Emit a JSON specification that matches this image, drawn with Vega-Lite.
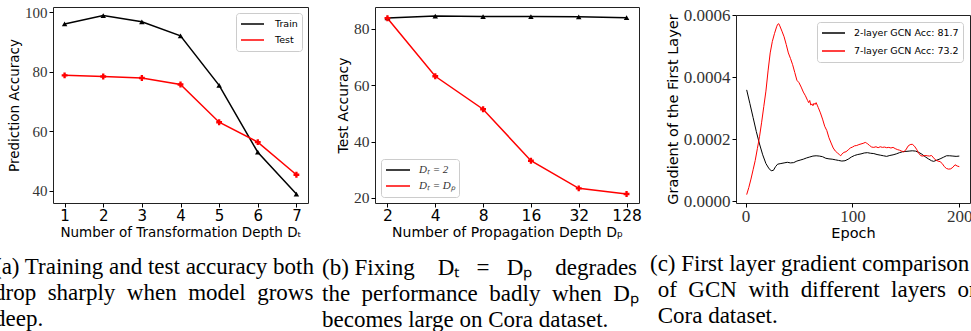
{
  "$schema": "https://vega.github.io/schema/vega-lite/v6.json",
  "autosize": {"type": "pad"},
  "padding": {"left": -7, "top": 4, "right": 0, "bottom": 0},
  "background": "white",
  "config": {
    "view": {"stroke": "#222222", "strokeWidth": 1},
    "axis": {"grid": false, "domain": false, "tickColor": "#000000", "tickSize": 4, "labelColor": "#000000", "titleColor": "#000000", "titleFontWeight": "normal", "titleFont": "DejaVu Sans", "labelFont": "DejaVu Sans", "labelFlush": false, "labelOverlap": false},
    "legend": {"title": null, "padding": 4, "strokeColor": "#cccccc", "fillColor": "white", "cornerRadius": 3, "labelFont": "DejaVu Sans", "labelColor": "#000000", "clipHeight": 14, "rowPadding": 2, "labelOffset": 8, "symbolType": "stroke", "symbolSize": 529, "symbolStrokeWidth": 1.5, "symbolOpacity": 1},
    "title": {"font": "Liberation Serif", "fontSize": 23, "fontWeight": "normal", "color": "#000000", "lineHeight": 26, "orient": "bottom", "anchor": "start", "frame": "group", "baseline": "top", "offset": 17}
  },
  "bounds": "flush",
  "spacing": 0,
  "resolve": {"scale": {"x": "independent", "y": "independent", "color": "independent"}, "legend": {"color": "independent"}},
  "hconcat": [
    {
      "width": 255,
      "height": 196,
      "title": {"text": ["(a) Training and test accuracy both", "drop \u00a0sharply \u00a0when \u00a0model \u00a0grows", "deep."], "dx": -59},
      "data": {"values": [
        {"depth": 1, "series": "Train", "acc": 96.1},
        {"depth": 2, "series": "Train", "acc": 98.9},
        {"depth": 3, "series": "Train", "acc": 96.8},
        {"depth": 4, "series": "Train", "acc": 92.1},
        {"depth": 5, "series": "Train", "acc": 75.4},
        {"depth": 6, "series": "Train", "acc": 52.9},
        {"depth": 7, "series": "Train", "acc": 38.8},
        {"depth": 1, "series": "Test", "acc": 78.8},
        {"depth": 2, "series": "Test", "acc": 78.4},
        {"depth": 3, "series": "Test", "acc": 77.9},
        {"depth": 4, "series": "Test", "acc": 75.7},
        {"depth": 5, "series": "Test", "acc": 63.0},
        {"depth": 6, "series": "Test", "acc": 56.3},
        {"depth": 7, "series": "Test", "acc": 45.3}
      ]},
      "encoding": {
        "x": {"field": "depth", "type": "quantitative", "scale": {"domain": [0.7, 7.3], "nice": false, "zero": false},
              "axis": {"title": "Number of Transformation Depth Dₜ", "values": [1, 2, 3, 4, 5, 6, 7], "format": "d", "labelFontSize": 15, "titleFontSize": 13.5, "labelPadding": 1, "titlePadding": 2}},
        "y": {"field": "acc", "type": "quantitative", "scale": {"domain": [35.8, 101.8], "nice": false, "zero": false},
              "axis": {"title": "Prediction Accuracy", "values": [40, 60, 80, 100], "labelFont": "Liberation Serif", "labelFontSize": 15, "labelColor": "#333333", "titleFontSize": 13.5, "labelPadding": 2, "titlePadding": 3}},
        "color": {"field": "series", "type": "nominal", "scale": {"domain": ["Train", "Test"], "range": ["#000000", "#ff0000"]},
                  "legend": {"orient": "top-right", "offset": 6, "labelFontSize": 9.5, "symbolType": "stroke", "symbolSize": 529, "symbolStrokeWidth": 1.5, "labelOffset": 10}}
      },
      "layer": [
        {"mark": {"type": "line", "strokeWidth": 1.5}},
        {"transform": [{"filter": "datum.series === 'Train'"}],
         "mark": {"type": "point", "filled": true, "opacity": 1, "size": 30, "shape": "triangle-up"}},
        {"transform": [{"filter": "datum.series === 'Test'"}],
         "mark": {"type": "point", "filled": true, "opacity": 1, "size": 34, "shape": "cross"}}
      ]
    },
    {
      "width": 67,
      "height": 196,
      "view": {"stroke": null},
      "data": {"values": []},
      "mark": {"type": "rule"},
      "encoding": {}
    },
    {
      "width": 264,
      "height": 196,
      "title": {"text": ["(b) Fixing\u00a0\u00a0\u00a0\u00a0Dₜ\u00a0\u00a0\u00a0=\u00a0\u00a0\u00a0Dₚ\u00a0\u00a0\u00a0\u00a0degrades", "the \u00a0performance \u00a0badly \u00a0when \u00a0Dₚ", "becomes large on Cora dataset."], "dx": -53},
      "data": {"values": [
        {"Dp": 2, "series": "Dₜ = 2", "acc": 83.9},
        {"Dp": 4, "series": "Dₜ = 2", "acc": 84.6},
        {"Dp": 8, "series": "Dₜ = 2", "acc": 84.4},
        {"Dp": 16, "series": "Dₜ = 2", "acc": 84.4},
        {"Dp": 32, "series": "Dₜ = 2", "acc": 84.3},
        {"Dp": 128, "series": "Dₜ = 2", "acc": 84.0},
        {"Dp": 2, "series": "Dₜ = Dₚ", "acc": 83.8},
        {"Dp": 4, "series": "Dₜ = Dₚ", "acc": 63.2},
        {"Dp": 8, "series": "Dₜ = Dₚ", "acc": 51.5},
        {"Dp": 16, "series": "Dₜ = Dₚ", "acc": 33.2},
        {"Dp": 32, "series": "Dₜ = Dₚ", "acc": 23.4},
        {"Dp": 128, "series": "Dₜ = Dₚ", "acc": 21.4}
      ]},
      "encoding": {
        "x": {"field": "Dp", "type": "ordinal", "scale": {"type": "point", "padding": 0.26},
              "axis": {"title": "Number of Propagation Depth Dₚ", "labelAngle": 0, "labelFontSize": 15.5, "titleFontSize": 14, "labelPadding": 1, "titlePadding": 2}},
        "y": {"field": "acc", "type": "quantitative", "scale": {"domain": [18.2, 87.8], "nice": false, "zero": false},
              "axis": {"title": "Test Accuracy", "values": [20, 40, 60, 80], "labelFont": "Liberation Serif", "labelFontSize": 15.5, "labelColor": "#333333", "titleFontSize": 14, "labelPadding": 2, "titlePadding": 3}},
        "color": {"field": "series", "type": "nominal", "scale": {"domain": ["Dₜ = 2", "Dₜ = Dₚ"], "range": ["#000000", "#ff0000"]},
                  "legend": {"orient": "bottom-left", "offset": 6, "labelFont": "Liberation Serif", "labelFontStyle": "italic", "labelFontSize": 11, "labelColor": "#333333", "symbolType": "stroke", "symbolSize": 576, "symbolStrokeWidth": 1.5, "labelOffset": 8}}
      },
      "layer": [
        {"mark": {"type": "line", "strokeWidth": 1.5}},
        {"transform": [{"filter": "datum.series === 'Dₜ = 2'"}],
         "mark": {"type": "point", "filled": true, "opacity": 1, "size": 30, "shape": "triangle-up"}},
        {"transform": [{"filter": "datum.series === 'Dₜ = Dₚ'"}],
         "mark": {"type": "point", "filled": true, "opacity": 1, "size": 34, "shape": "cross"}}
      ]
    },
    {
      "width": 97,
      "height": 196,
      "view": {"stroke": null},
      "data": {"values": []},
      "mark": {"type": "rule"},
      "encoding": {}
    },
    {
      "bounds": "flush",
      "spacing": 0,
      "resolve": {"scale": {"x": "independent", "y": "independent", "color": "independent"}, "legend": {"color": "independent"}},
      "vconcat": [
        {
          "width": 234,
          "height": 8,
          "view": {"stroke": null},
          "data": {"values": []},
          "mark": {"type": "rule"},
          "encoding": {}
        },
        {
          "width": 234,
          "height": 188,
          "title": {"text": ["(c) First layer gradient comparison", "\u200b\u00a0\u200aof \u00a0GCN \u00a0with \u00a0different \u00a0layers \u00a0on", "\u200b\u00a0\u200aCora dataset."], "dx": -86, "offset": 13},
          "data": {"values": [
            {"epoch": 1, "series": "2-layer GCN Acc: 81.7", "grad": 0.000359},
            {"epoch": 4, "series": "2-layer GCN Acc: 81.7", "grad": 0.000315},
            {"epoch": 7, "series": "2-layer GCN Acc: 81.7", "grad": 0.000270},
            {"epoch": 10, "series": "2-layer GCN Acc: 81.7", "grad": 0.000225},
            {"epoch": 13, "series": "2-layer GCN Acc: 81.7", "grad": 0.000185},
            {"epoch": 16, "series": "2-layer GCN Acc: 81.7", "grad": 0.000150},
            {"epoch": 19, "series": "2-layer GCN Acc: 81.7", "grad": 0.000122},
            {"epoch": 22, "series": "2-layer GCN Acc: 81.7", "grad": 0.000105},
            {"epoch": 24, "series": "2-layer GCN Acc: 81.7", "grad": 0.000099},
            {"epoch": 26, "series": "2-layer GCN Acc: 81.7", "grad": 0.000100},
            {"epoch": 28, "series": "2-layer GCN Acc: 81.7", "grad": 0.000112},
            {"epoch": 30, "series": "2-layer GCN Acc: 81.7", "grad": 0.000120},
            {"epoch": 33, "series": "2-layer GCN Acc: 81.7", "grad": 0.000122},
            {"epoch": 36, "series": "2-layer GCN Acc: 81.7", "grad": 0.000124},
            {"epoch": 39, "series": "2-layer GCN Acc: 81.7", "grad": 0.000126},
            {"epoch": 42, "series": "2-layer GCN Acc: 81.7", "grad": 0.000124},
            {"epoch": 45, "series": "2-layer GCN Acc: 81.7", "grad": 0.000125},
            {"epoch": 48, "series": "2-layer GCN Acc: 81.7", "grad": 0.000130},
            {"epoch": 51, "series": "2-layer GCN Acc: 81.7", "grad": 0.000133},
            {"epoch": 54, "series": "2-layer GCN Acc: 81.7", "grad": 0.000136},
            {"epoch": 57, "series": "2-layer GCN Acc: 81.7", "grad": 0.000140},
            {"epoch": 60, "series": "2-layer GCN Acc: 81.7", "grad": 0.000143},
            {"epoch": 63, "series": "2-layer GCN Acc: 81.7", "grad": 0.000146},
            {"epoch": 66, "series": "2-layer GCN Acc: 81.7", "grad": 0.000147},
            {"epoch": 69, "series": "2-layer GCN Acc: 81.7", "grad": 0.000146},
            {"epoch": 72, "series": "2-layer GCN Acc: 81.7", "grad": 0.000144},
            {"epoch": 75, "series": "2-layer GCN Acc: 81.7", "grad": 0.000139},
            {"epoch": 78, "series": "2-layer GCN Acc: 81.7", "grad": 0.000137},
            {"epoch": 81, "series": "2-layer GCN Acc: 81.7", "grad": 0.000136},
            {"epoch": 84, "series": "2-layer GCN Acc: 81.7", "grad": 0.000134},
            {"epoch": 87, "series": "2-layer GCN Acc: 81.7", "grad": 0.000132},
            {"epoch": 90, "series": "2-layer GCN Acc: 81.7", "grad": 0.000130},
            {"epoch": 93, "series": "2-layer GCN Acc: 81.7", "grad": 0.000131},
            {"epoch": 96, "series": "2-layer GCN Acc: 81.7", "grad": 0.000136},
            {"epoch": 99, "series": "2-layer GCN Acc: 81.7", "grad": 0.000143},
            {"epoch": 102, "series": "2-layer GCN Acc: 81.7", "grad": 0.000148},
            {"epoch": 105, "series": "2-layer GCN Acc: 81.7", "grad": 0.000151},
            {"epoch": 108, "series": "2-layer GCN Acc: 81.7", "grad": 0.000153},
            {"epoch": 111, "series": "2-layer GCN Acc: 81.7", "grad": 0.000156},
            {"epoch": 114, "series": "2-layer GCN Acc: 81.7", "grad": 0.000157},
            {"epoch": 117, "series": "2-layer GCN Acc: 81.7", "grad": 0.000155},
            {"epoch": 120, "series": "2-layer GCN Acc: 81.7", "grad": 0.000154},
            {"epoch": 123, "series": "2-layer GCN Acc: 81.7", "grad": 0.000151},
            {"epoch": 126, "series": "2-layer GCN Acc: 81.7", "grad": 0.000149},
            {"epoch": 129, "series": "2-layer GCN Acc: 81.7", "grad": 0.000147},
            {"epoch": 132, "series": "2-layer GCN Acc: 81.7", "grad": 0.000145},
            {"epoch": 135, "series": "2-layer GCN Acc: 81.7", "grad": 0.000148},
            {"epoch": 138, "series": "2-layer GCN Acc: 81.7", "grad": 0.000150},
            {"epoch": 141, "series": "2-layer GCN Acc: 81.7", "grad": 0.000153},
            {"epoch": 144, "series": "2-layer GCN Acc: 81.7", "grad": 0.000157},
            {"epoch": 147, "series": "2-layer GCN Acc: 81.7", "grad": 0.000160},
            {"epoch": 150, "series": "2-layer GCN Acc: 81.7", "grad": 0.000161},
            {"epoch": 153, "series": "2-layer GCN Acc: 81.7", "grad": 0.000162},
            {"epoch": 156, "series": "2-layer GCN Acc: 81.7", "grad": 0.000163},
            {"epoch": 159, "series": "2-layer GCN Acc: 81.7", "grad": 0.000162},
            {"epoch": 162, "series": "2-layer GCN Acc: 81.7", "grad": 0.000158},
            {"epoch": 165, "series": "2-layer GCN Acc: 81.7", "grad": 0.000152},
            {"epoch": 168, "series": "2-layer GCN Acc: 81.7", "grad": 0.000144},
            {"epoch": 171, "series": "2-layer GCN Acc: 81.7", "grad": 0.000137},
            {"epoch": 174, "series": "2-layer GCN Acc: 81.7", "grad": 0.000131},
            {"epoch": 176, "series": "2-layer GCN Acc: 81.7", "grad": 0.000129},
            {"epoch": 179, "series": "2-layer GCN Acc: 81.7", "grad": 0.000133},
            {"epoch": 182, "series": "2-layer GCN Acc: 81.7", "grad": 0.000137},
            {"epoch": 185, "series": "2-layer GCN Acc: 81.7", "grad": 0.000142},
            {"epoch": 188, "series": "2-layer GCN Acc: 81.7", "grad": 0.000147},
            {"epoch": 191, "series": "2-layer GCN Acc: 81.7", "grad": 0.000147},
            {"epoch": 194, "series": "2-layer GCN Acc: 81.7", "grad": 0.000146},
            {"epoch": 197, "series": "2-layer GCN Acc: 81.7", "grad": 0.000145},
            {"epoch": 200, "series": "2-layer GCN Acc: 81.7", "grad": 0.000146},
            {"epoch": 1, "series": "7-layer GCN Acc: 73.2", "grad": 0.000022},
            {"epoch": 3, "series": "7-layer GCN Acc: 73.2", "grad": 0.000045},
            {"epoch": 5, "series": "7-layer GCN Acc: 73.2", "grad": 0.000072},
            {"epoch": 7, "series": "7-layer GCN Acc: 73.2", "grad": 0.000102},
            {"epoch": 9, "series": "7-layer GCN Acc: 73.2", "grad": 0.000132},
            {"epoch": 11, "series": "7-layer GCN Acc: 73.2", "grad": 0.000170},
            {"epoch": 13, "series": "7-layer GCN Acc: 73.2", "grad": 0.000208},
            {"epoch": 15, "series": "7-layer GCN Acc: 73.2", "grad": 0.000255},
            {"epoch": 17, "series": "7-layer GCN Acc: 73.2", "grad": 0.000305},
            {"epoch": 19, "series": "7-layer GCN Acc: 73.2", "grad": 0.000355},
            {"epoch": 21, "series": "7-layer GCN Acc: 73.2", "grad": 0.000420},
            {"epoch": 23, "series": "7-layer GCN Acc: 73.2", "grad": 0.000478},
            {"epoch": 25, "series": "7-layer GCN Acc: 73.2", "grad": 0.000515},
            {"epoch": 27, "series": "7-layer GCN Acc: 73.2", "grad": 0.000540},
            {"epoch": 29, "series": "7-layer GCN Acc: 73.2", "grad": 0.000562},
            {"epoch": 30, "series": "7-layer GCN Acc: 73.2", "grad": 0.000570},
            {"epoch": 31, "series": "7-layer GCN Acc: 73.2", "grad": 0.000572},
            {"epoch": 32, "series": "7-layer GCN Acc: 73.2", "grad": 0.000565},
            {"epoch": 34, "series": "7-layer GCN Acc: 73.2", "grad": 0.000548},
            {"epoch": 36, "series": "7-layer GCN Acc: 73.2", "grad": 0.000530},
            {"epoch": 38, "series": "7-layer GCN Acc: 73.2", "grad": 0.000505},
            {"epoch": 40, "series": "7-layer GCN Acc: 73.2", "grad": 0.000478},
            {"epoch": 42, "series": "7-layer GCN Acc: 73.2", "grad": 0.000460},
            {"epoch": 44, "series": "7-layer GCN Acc: 73.2", "grad": 0.000440},
            {"epoch": 46, "series": "7-layer GCN Acc: 73.2", "grad": 0.000415},
            {"epoch": 48, "series": "7-layer GCN Acc: 73.2", "grad": 0.000390},
            {"epoch": 50, "series": "7-layer GCN Acc: 73.2", "grad": 0.000382},
            {"epoch": 52, "series": "7-layer GCN Acc: 73.2", "grad": 0.000368},
            {"epoch": 54, "series": "7-layer GCN Acc: 73.2", "grad": 0.000352},
            {"epoch": 56, "series": "7-layer GCN Acc: 73.2", "grad": 0.000340},
            {"epoch": 58, "series": "7-layer GCN Acc: 73.2", "grad": 0.000325},
            {"epoch": 59, "series": "7-layer GCN Acc: 73.2", "grad": 0.000318},
            {"epoch": 60, "series": "7-layer GCN Acc: 73.2", "grad": 0.000325},
            {"epoch": 61, "series": "7-layer GCN Acc: 73.2", "grad": 0.000310},
            {"epoch": 62, "series": "7-layer GCN Acc: 73.2", "grad": 0.000314},
            {"epoch": 63, "series": "7-layer GCN Acc: 73.2", "grad": 0.000308},
            {"epoch": 64, "series": "7-layer GCN Acc: 73.2", "grad": 0.000316},
            {"epoch": 65, "series": "7-layer GCN Acc: 73.2", "grad": 0.000312},
            {"epoch": 66, "series": "7-layer GCN Acc: 73.2", "grad": 0.000318},
            {"epoch": 67, "series": "7-layer GCN Acc: 73.2", "grad": 0.000310},
            {"epoch": 68, "series": "7-layer GCN Acc: 73.2", "grad": 0.000302},
            {"epoch": 70, "series": "7-layer GCN Acc: 73.2", "grad": 0.000285},
            {"epoch": 72, "series": "7-layer GCN Acc: 73.2", "grad": 0.000265},
            {"epoch": 74, "series": "7-layer GCN Acc: 73.2", "grad": 0.000242},
            {"epoch": 76, "series": "7-layer GCN Acc: 73.2", "grad": 0.000228},
            {"epoch": 78, "series": "7-layer GCN Acc: 73.2", "grad": 0.000205},
            {"epoch": 80, "series": "7-layer GCN Acc: 73.2", "grad": 0.000188},
            {"epoch": 82, "series": "7-layer GCN Acc: 73.2", "grad": 0.000172},
            {"epoch": 84, "series": "7-layer GCN Acc: 73.2", "grad": 0.000162},
            {"epoch": 86, "series": "7-layer GCN Acc: 73.2", "grad": 0.000156},
            {"epoch": 88, "series": "7-layer GCN Acc: 73.2", "grad": 0.000150},
            {"epoch": 89, "series": "7-layer GCN Acc: 73.2", "grad": 0.000147},
            {"epoch": 90, "series": "7-layer GCN Acc: 73.2", "grad": 0.000152},
            {"epoch": 92, "series": "7-layer GCN Acc: 73.2", "grad": 0.000158},
            {"epoch": 94, "series": "7-layer GCN Acc: 73.2", "grad": 0.000160},
            {"epoch": 96, "series": "7-layer GCN Acc: 73.2", "grad": 0.000166},
            {"epoch": 98, "series": "7-layer GCN Acc: 73.2", "grad": 0.000172},
            {"epoch": 100, "series": "7-layer GCN Acc: 73.2", "grad": 0.000175},
            {"epoch": 102, "series": "7-layer GCN Acc: 73.2", "grad": 0.000179},
            {"epoch": 104, "series": "7-layer GCN Acc: 73.2", "grad": 0.000180},
            {"epoch": 106, "series": "7-layer GCN Acc: 73.2", "grad": 0.000183},
            {"epoch": 108, "series": "7-layer GCN Acc: 73.2", "grad": 0.000185},
            {"epoch": 110, "series": "7-layer GCN Acc: 73.2", "grad": 0.000187},
            {"epoch": 112, "series": "7-layer GCN Acc: 73.2", "grad": 0.000190},
            {"epoch": 113, "series": "7-layer GCN Acc: 73.2", "grad": 0.000188},
            {"epoch": 114, "series": "7-layer GCN Acc: 73.2", "grad": 0.000186},
            {"epoch": 116, "series": "7-layer GCN Acc: 73.2", "grad": 0.000180},
            {"epoch": 118, "series": "7-layer GCN Acc: 73.2", "grad": 0.000175},
            {"epoch": 120, "series": "7-layer GCN Acc: 73.2", "grad": 0.000174},
            {"epoch": 122, "series": "7-layer GCN Acc: 73.2", "grad": 0.000176},
            {"epoch": 124, "series": "7-layer GCN Acc: 73.2", "grad": 0.000173},
            {"epoch": 126, "series": "7-layer GCN Acc: 73.2", "grad": 0.000176},
            {"epoch": 128, "series": "7-layer GCN Acc: 73.2", "grad": 0.000174},
            {"epoch": 130, "series": "7-layer GCN Acc: 73.2", "grad": 0.000175},
            {"epoch": 132, "series": "7-layer GCN Acc: 73.2", "grad": 0.000173},
            {"epoch": 134, "series": "7-layer GCN Acc: 73.2", "grad": 0.000174},
            {"epoch": 136, "series": "7-layer GCN Acc: 73.2", "grad": 0.000172},
            {"epoch": 138, "series": "7-layer GCN Acc: 73.2", "grad": 0.000174},
            {"epoch": 140, "series": "7-layer GCN Acc: 73.2", "grad": 0.000170},
            {"epoch": 142, "series": "7-layer GCN Acc: 73.2", "grad": 0.000167},
            {"epoch": 144, "series": "7-layer GCN Acc: 73.2", "grad": 0.000165},
            {"epoch": 146, "series": "7-layer GCN Acc: 73.2", "grad": 0.000162},
            {"epoch": 148, "series": "7-layer GCN Acc: 73.2", "grad": 0.000160},
            {"epoch": 150, "series": "7-layer GCN Acc: 73.2", "grad": 0.000166},
            {"epoch": 152, "series": "7-layer GCN Acc: 73.2", "grad": 0.000178},
            {"epoch": 154, "series": "7-layer GCN Acc: 73.2", "grad": 0.000183},
            {"epoch": 156, "series": "7-layer GCN Acc: 73.2", "grad": 0.000184},
            {"epoch": 158, "series": "7-layer GCN Acc: 73.2", "grad": 0.000178},
            {"epoch": 160, "series": "7-layer GCN Acc: 73.2", "grad": 0.000168},
            {"epoch": 162, "series": "7-layer GCN Acc: 73.2", "grad": 0.000155},
            {"epoch": 164, "series": "7-layer GCN Acc: 73.2", "grad": 0.000147},
            {"epoch": 166, "series": "7-layer GCN Acc: 73.2", "grad": 0.000146},
            {"epoch": 168, "series": "7-layer GCN Acc: 73.2", "grad": 0.000148},
            {"epoch": 170, "series": "7-layer GCN Acc: 73.2", "grad": 0.000147},
            {"epoch": 172, "series": "7-layer GCN Acc: 73.2", "grad": 0.000146},
            {"epoch": 174, "series": "7-layer GCN Acc: 73.2", "grad": 0.000148},
            {"epoch": 176, "series": "7-layer GCN Acc: 73.2", "grad": 0.000140},
            {"epoch": 178, "series": "7-layer GCN Acc: 73.2", "grad": 0.000133},
            {"epoch": 180, "series": "7-layer GCN Acc: 73.2", "grad": 0.000130},
            {"epoch": 182, "series": "7-layer GCN Acc: 73.2", "grad": 0.000128},
            {"epoch": 184, "series": "7-layer GCN Acc: 73.2", "grad": 0.000122},
            {"epoch": 186, "series": "7-layer GCN Acc: 73.2", "grad": 0.000112},
            {"epoch": 188, "series": "7-layer GCN Acc: 73.2", "grad": 0.000106},
            {"epoch": 190, "series": "7-layer GCN Acc: 73.2", "grad": 0.000104},
            {"epoch": 192, "series": "7-layer GCN Acc: 73.2", "grad": 0.000105},
            {"epoch": 194, "series": "7-layer GCN Acc: 73.2", "grad": 0.000110},
            {"epoch": 196, "series": "7-layer GCN Acc: 73.2", "grad": 0.000118},
            {"epoch": 198, "series": "7-layer GCN Acc: 73.2", "grad": 0.000114},
            {"epoch": 200, "series": "7-layer GCN Acc: 73.2", "grad": 0.000112}
          ]},
          "mark": {"type": "line", "strokeWidth": 1},
          "encoding": {
            "x": {"field": "epoch", "type": "quantitative", "scale": {"domain": [-9, 210], "nice": false, "zero": false},
                  "axis": {"title": "Epoch", "values": [0, 100, 200], "labelFont": "Liberation Serif", "labelFontSize": 17, "labelColor": "#333333", "titleFontSize": 14.5, "labelPadding": 1, "titlePadding": 2}},
            "y": {"field": "grad", "type": "quantitative", "scale": {"domain": [-0.000005, 0.0006], "nice": false, "zero": false},
                  "axis": {"title": "Gradient of the First Layer", "values": [0, 0.0002, 0.0004, 0.0006], "format": ".4f", "labelFont": "Liberation Serif", "labelFontSize": 17, "labelColor": "#333333", "titleFontSize": 14.5, "labelPadding": 2, "titlePadding": 3}},
            "color": {"field": "series", "type": "nominal", "scale": {"domain": ["2-layer GCN Acc: 81.7", "7-layer GCN Acc: 73.2"], "range": ["#000000", "#ff0000"]},
                      "legend": {"orient": "top-right", "offset": 7, "labelFontSize": 9.5, "symbolType": "stroke", "symbolSize": 529, "symbolStrokeWidth": 1.5, "rowPadding": 4}}
          }
        }
      ]
    }
  ]
}
